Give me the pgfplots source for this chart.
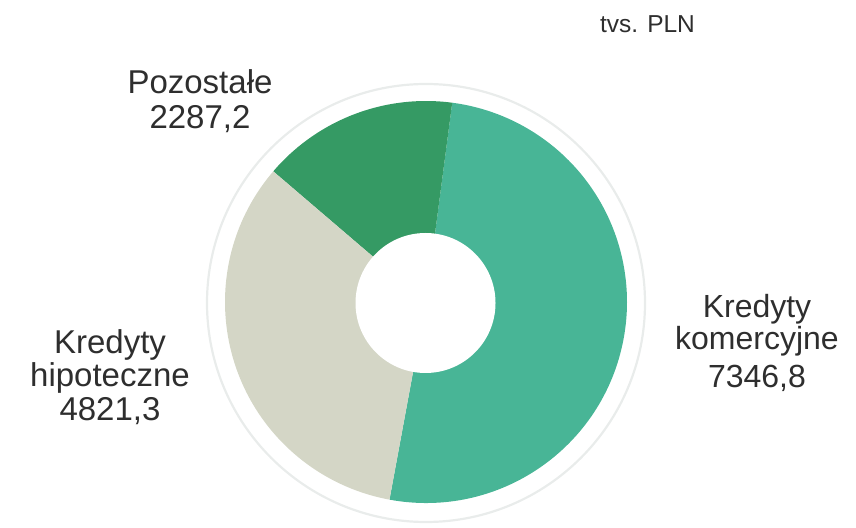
\documentclass[border=0pt]{standalone}
\usepackage{pgfplots}
\pgfplotsset{compat=1.18}
\usepackage{pgfplotstable}
\usepackage{fontspec}
\setmainfont{Liberation Sans}
\definecolor{kom}{HTML}{48B596}
\definecolor{poz}{HTML}{359A64}
\definecolor{hip}{HTML}{D4D6C6}
\definecolor{ringc}{HTML}{E9ECEB}
\definecolor{txt}{HTML}{2E2E2E}
\pgfplotstableread[col sep=comma]{
name,value
kom,7346.8
poz,2287.2
hip,4821.3
}\piedata
\begin{document}
\begin{tikzpicture}
\pgfplotstablegetelem{0}{value}\of\piedata \let\vKom\pgfplotsretval
\pgfplotstablegetelem{1}{value}\of\piedata \let\vPoz\pgfplotsretval
\pgfplotstablegetelem{2}{value}\of\piedata \let\vHip\pgfplotsretval
\pgfmathsetmacro\tot{\vKom+\vPoz+\vHip}
\pgfmathsetmacro\aKom{\vKom/\tot*360}
\pgfmathsetmacro\aPoz{\vPoz/\tot*360}
\pgfmathsetmacro\aHip{\vHip/\tot*360}
\def\startA{82.5}
\pgfmathsetmacro\aA{\startA-\aKom}
\pgfmathsetmacro\aB{\startA}
\pgfmathsetmacro\aC{\startA+\aPoz}
\pgfmathsetmacro\aD{\aC+\aHip}
\begin{axis}[x=1pt,y=1pt,xmin=0,xmax=856,ymin=0,ymax=527,hide axis,clip=false,
  scale only axis]
\path (axis cs:0,0) rectangle (axis cs:856,527);
\fill[kom] (axis cs:426,225) -- ++(\aA:201pt) arc[start angle=\aA, end angle=\aB, radius=201pt] -- cycle;
\fill[poz] (axis cs:426,225) -- ++(\aB:201pt) arc[start angle=\aB, end angle=\aC, radius=201pt] -- cycle;
\fill[hip] (axis cs:426,225) -- ++(\aC:201pt) arc[start angle=\aC, end angle=\aD, radius=201pt] -- cycle;
\fill[white] (axis cs:425.5,224) circle[radius=70pt];
\draw[ringc, line width=2.2pt] (axis cs:426,224) circle[radius=219pt];
% labels
\node[anchor=base, text=txt, font=\fontsize{24.5}{28}\selectfont] at (axis cs:647.5,494) {tvs. PLN};
\node[anchor=base, text=txt, font=\fontsize{33}{35}\selectfont] at (axis cs:200,433) {Pozostałe};
\node[anchor=base, text=txt, font=\fontsize{33}{35}\selectfont] at (axis cs:200,398) {2287,2};
\node[anchor=base, text=txt, font=\fontsize{32}{35}\selectfont] at (axis cs:757,209) {Kredyty};
\node[anchor=base, text=txt, font=\fontsize{32}{35}\selectfont] at (axis cs:757,177) {komercyjne};
\node[anchor=base, text=txt, font=\fontsize{32}{35}\selectfont] at (axis cs:757,139) {7346,8};
\node[anchor=base, text=txt, font=\fontsize{33}{35}\selectfont] at (axis cs:110,173) {Kredyty};
\node[anchor=base, text=txt, font=\fontsize{33}{35}\selectfont] at (axis cs:110,140) {hipoteczne};
\node[anchor=base, text=txt, font=\fontsize{33}{35}\selectfont] at (axis cs:110,106) {4821,3};
\end{axis}
\end{tikzpicture}
\end{document}
